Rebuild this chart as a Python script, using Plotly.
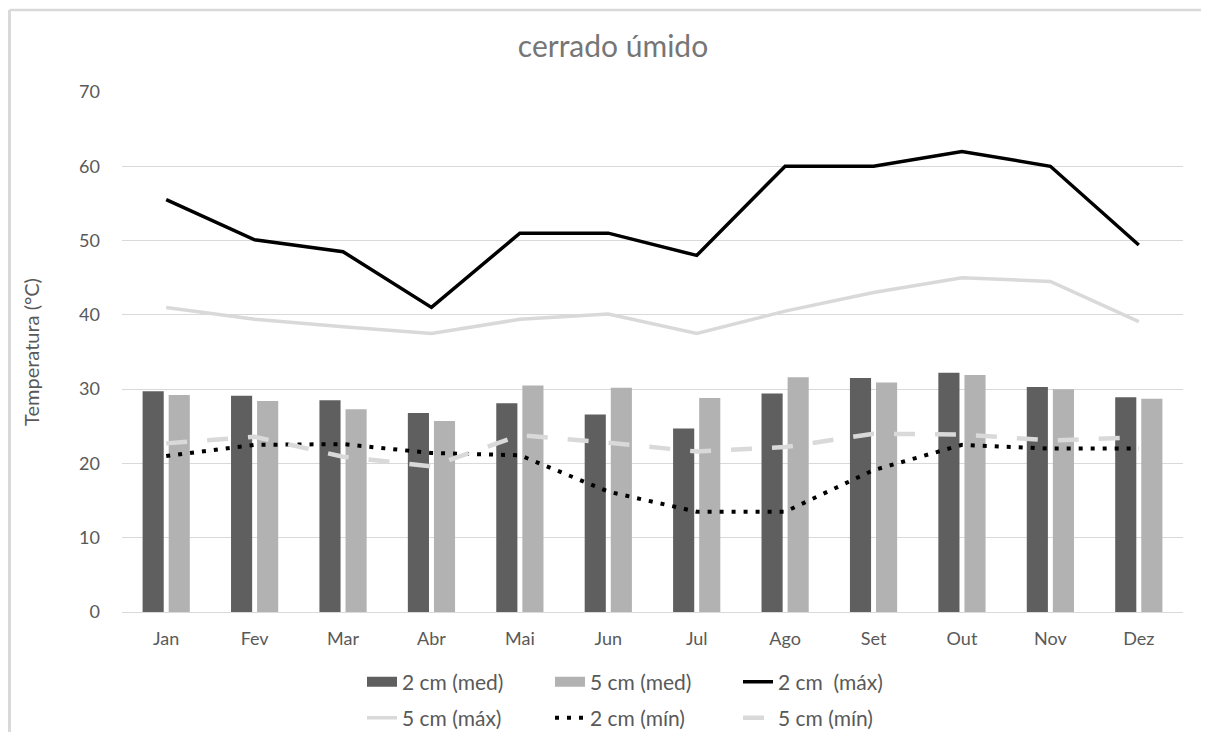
import plotly.graph_objects as go

months = ["Jan", "Fev", "Mar", "Abr", "Mai", "Jun", "Jul", "Ago", "Set", "Out", "Nov", "Dez"]

med_2cm = [29.7, 29.1, 28.5, 26.8, 28.1, 26.6, 24.7, 29.4, 31.5, 32.2, 30.3, 28.9]
med_5cm = [29.2, 28.4, 27.3, 25.7, 30.5, 30.2, 28.8, 31.6, 30.9, 31.9, 30.0, 28.7]
max_2cm = [55.5, 50.1, 48.5, 41.0, 51.0, 51.0, 48.0, 60.0, 60.0, 62.0, 60.0, 49.4]
max_5cm = [41.0, 39.4, 38.4, 37.5, 39.4, 40.1, 37.5, 40.5, 43.0, 45.0, 44.5, 39.1]
min_2cm = [21.0, 22.5, 22.6, 21.4, 21.1, 16.2, 13.5, 13.5, 19.1, 22.5, 22.0, 22.0]
min_5cm = [22.7, 23.6, 20.9, 19.6, 23.8, 22.8, 21.6, 22.2, 24.0, 23.9, 23.1, 23.5]

FONT = "Lato, Open Sans, sans-serif"
TEXT = "#595959"
GRID = "#d9d9d9"
DARK, LIGHT = "#5f5f5f", "#b2b2b2"

# the page puts the figure at an 8px body margin; keep it inside the window
W, H = 1193, 724
L, R, T, B = 114, 18, 84, 120
PW, PH = W - L - R, H - T - B

fig = go.Figure()

fig.add_trace(go.Bar(x=months, y=med_2cm, name="2 cm (med)", showlegend=False,
                     marker=dict(color=DARK, line=dict(width=0))))
fig.add_trace(go.Bar(x=months, y=med_5cm, name="5 cm (med)", showlegend=False,
                     marker=dict(color=LIGHT, line=dict(width=0))))

# wide legend swatches for the bars, like the original
fig.add_trace(go.Scatter(x=[None], y=[None], name="2 cm (med)", mode="lines",
                         line=dict(color=DARK, width=12), legend="legend"))
fig.add_trace(go.Scatter(x=[None], y=[None], name="5 cm (med)", mode="lines",
                         line=dict(color=LIGHT, width=12), legend="legend"))

fig.add_trace(go.Scatter(x=months, y=max_2cm, name="2 cm  (máx)", mode="lines",
                         line=dict(color="black", width=3.5), legend="legend"))
fig.add_trace(go.Scatter(x=months, y=max_5cm, name="5 cm (máx)", mode="lines",
                         line=dict(color="#d9d9d9", width=3.5), legend="legend2"))
fig.add_trace(go.Scatter(x=months, y=min_2cm, name="2 cm (mín)", mode="lines",
                         line=dict(color="black", width=4, dash="4px,8px"), legend="legend2"))
fig.add_trace(go.Scatter(x=months, y=min_5cm, name="5 cm (mín)", mode="lines",
                         line=dict(color="#d9d9d9", width=4.5, dash="21px,20px"), legend="legend2"))

# frame lines (left and top edge of the original picture)
x_left = (1.5 - L) / PW
y_top = (PH + T - 2) / PH
fig.add_shape(type="line", xref="paper", yref="paper",
              x0=x_left, x1=x_left, y0=-0.3, y1=y_top, line=dict(color="#d9d9d9", width=3))
fig.add_shape(type="line", xref="paper", yref="paper",
              x0=x_left, x1=1.05, y0=y_top, y1=y_top, line=dict(color="#d9d9d9", width=2.5))

legend_style = dict(orientation="h", xref="container", x=(644 - 8) / W, xanchor="center",
                    yanchor="middle", font=dict(size=21, color=TEXT),
                    itemwidth=30, entrywidth=143, bgcolor="rgba(0,0,0,0)")

fig.update_layout(
    width=W,
    height=H,
    paper_bgcolor="white",
    plot_bgcolor="white",
    margin=dict(l=L, r=R, t=T, b=B, autoexpand=False),
    barmode="group",
    bargap=0.41,
    bargroupgap=0.19,
    font=dict(family=FONT, size=18, color=TEXT),
    title=dict(text="cerrado úmido", x=605 / W, xanchor="center",
               y=1 - 38 / H, yanchor="middle",
               font=dict(family=FONT, size=30, color="#767676")),
    xaxis=dict(showgrid=False, showline=True, linecolor=GRID, linewidth=1,
               ticks="", ticklabelstandoff=10, tickfont=dict(size=18, color=TEXT)),
    yaxis=dict(range=[0, 70], dtick=10, showgrid=True, gridcolor=GRID, gridwidth=1,
               zeroline=False, showline=False, ticks="", ticklabelstandoff=21,
               tickfont=dict(size=18, color=TEXT),
               title=dict(text="Temperatura (°C)", font=dict(size=20, color=TEXT), standoff=34)),
    legend=dict(legend_style, y=-0.135),
    legend2=dict(legend_style, y=-0.204),
)

fig.write_html("out.html")
